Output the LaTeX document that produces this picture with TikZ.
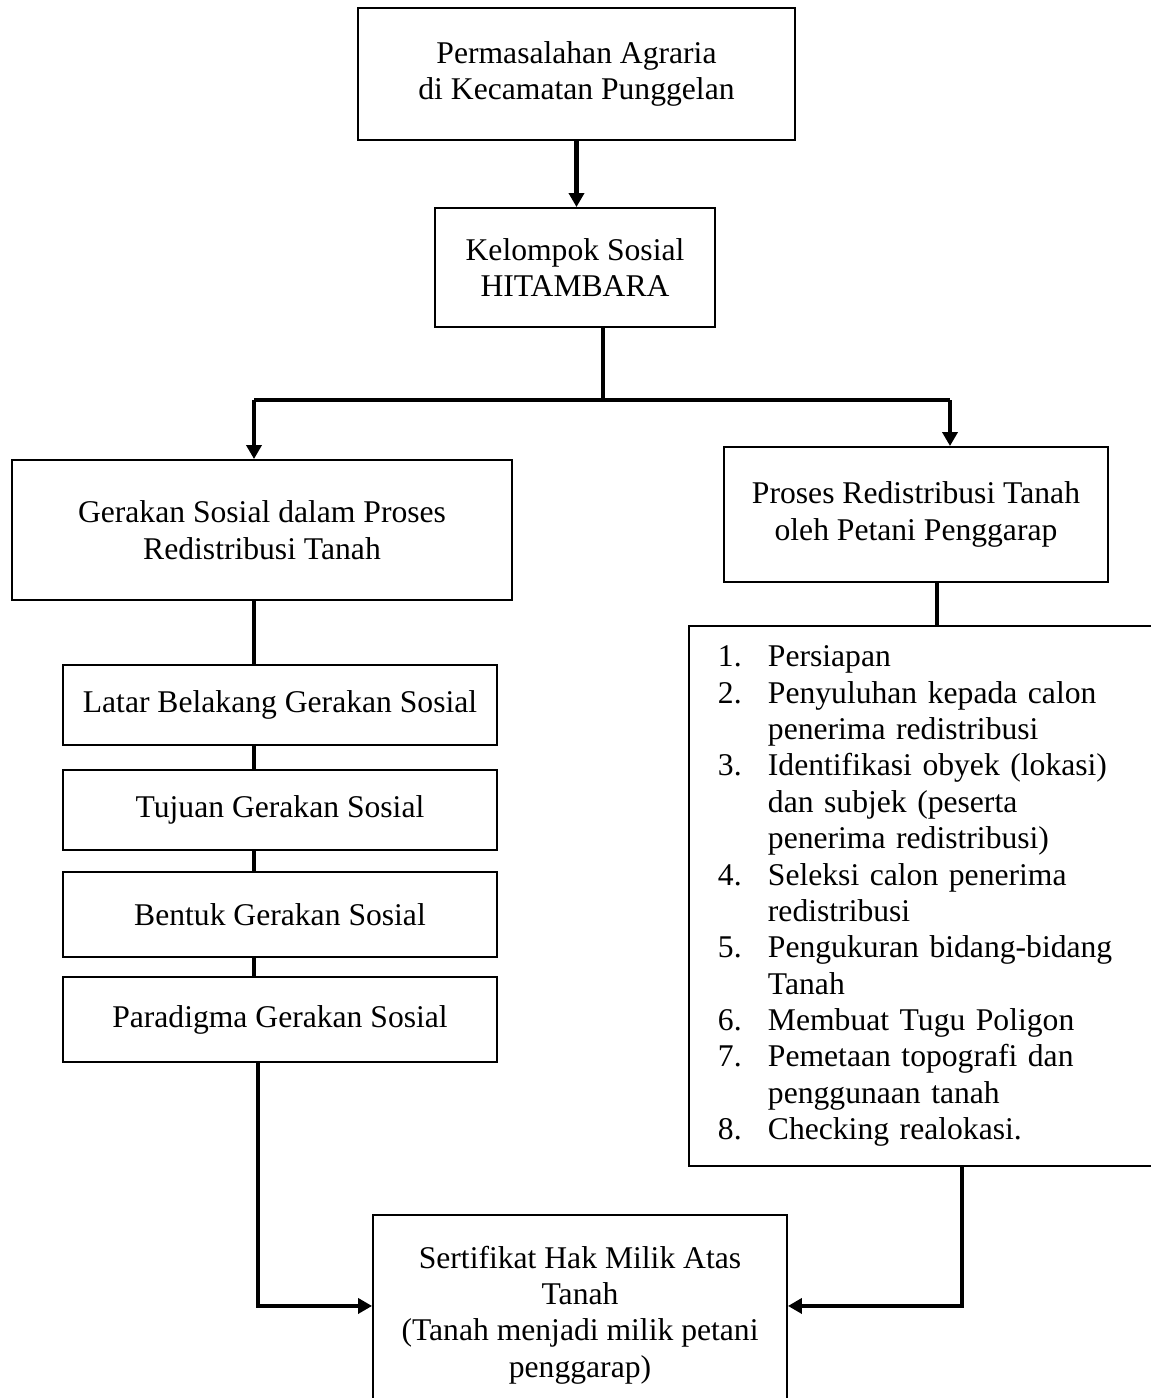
\documentclass[tikz,border=0pt]{standalone}
\usepackage{fontspec}
\setmainfont{Liberation Serif}
\usetikzlibrary{arrows.meta,positioning}

\tikzset{
  kotak/.style={draw,line width=1.1pt,align=center,inner sep=0pt},
  alur/.style={line width=2.3pt},
  panah/.style={alur,-{Triangle[width=0.3cm,length=0.28cm]}},
}

\begin{document}
\begin{tikzpicture}[x=0.02cm,y=-0.02cm,font=\fontsize{18}{20.7}\selectfont]
\useasboundingbox (0,0) rectangle (1150,1398);

% kotak utama
\node[kotak,minimum width=8.74cm,minimum height=2.64cm] (perm) at (576.5,74)
   {Permasalahan Agraria\\di Kecamatan Punggelan};
\node[kotak,minimum width=5.6cm,minimum height=2.38cm] (kelompok) at (575,267.5)
   {Kelompok Sosial\\HITAMBARA};
\node[kotak,minimum width=10cm,minimum height=2.8cm] (gerakan) at (262,530)
   {Gerakan Sosial dalam Proses\\Redistribusi Tanah};
\node[kotak,minimum width=7.68cm,minimum height=2.7cm] (proses) at (916,514.5)
   {Proses Redistribusi Tanah\\oleh Petani Penggarap};

% kolom kiri
\node[kotak,minimum width=8.68cm,minimum height=1.6cm] (latar) at (280,705)
   {Latar Belakang Gerakan Sosial};
\node[kotak,minimum width=8.68cm,minimum height=1.6cm] (tujuan) at (280,810)
   {Tujuan Gerakan Sosial};
\node[kotak,minimum width=8.68cm,minimum height=1.7cm] (bentuk) at (280,914.5)
   {Bentuk Gerakan Sosial};
\node[kotak,minimum width=8.68cm,minimum height=1.7cm] (paradigma) at (280,1019.5)
   {Paradigma Gerakan Sosial};

% daftar tahapan
\node[kotak,anchor=north west,align=left,inner xsep=0.58cm,text width=9.24cm,
      minimum height=10.8cm] (daftar) at (688,625) {%
\begin{tabular}{@{}p{1cm}@{}l@{}}
1. & Persiapan\\
2. & Penyuluhan kepada calon\\
   & penerima redistribusi\\
3. & Identifikasi obyek (lokasi)\\
   & dan subjek (peserta\\
   & penerima redistribusi)\\
4. & Seleksi calon penerima\\
   & redistribusi\\
5. & Pengukuran bidang-bidang\\
   & Tanah\\
6. & Membuat Tugu Poligon\\
7. & Pemetaan topografi dan\\
   & penggunaan tanah\\
8. & Checking realokasi.
\end{tabular}};

\node[kotak,anchor=north,minimum width=8.28cm,minimum height=4cm] (sertifikat) at (580,1214)
   {Sertifikat Hak Milik Atas\\Tanah\\(Tanah menjadi milik petani\\penggarap)};

% titik bantu
\coordinate (cabang) at (603,400);
\coordinate (kiri) at (254,400);
\coordinate (kanan) at (950,400);
\coordinate (kolom) at (254,0);
\coordinate (kolomb) at (258,0);
\coordinate (kolomr) at (937,0);
\coordinate (kolomd) at (962,0);

% penghubung
\draw[panah] (perm.south) -- (perm.south |- kelompok.north);
\draw[alur] (kelompok.south -| cabang) -- (cabang);
\draw[alur] (kiri) -- (kanan);
\draw[panah] (kiri) -- (kiri |- gerakan.north);
\draw[panah] (kanan) -- (kanan |- proses.north);
\draw[alur] (proses.south -| kolomr) -- (daftar.north -| kolomr);
\draw[alur] (gerakan.south -| kolom) -- (latar.north -| kolom);
\draw[alur] (latar.south -| kolom) -- (tujuan.north -| kolom);
\draw[alur] (tujuan.south -| kolom) -- (bentuk.north -| kolom);
\draw[alur] (bentuk.south -| kolom) -- (paradigma.north -| kolom);
\draw[panah] (paradigma.south -| kolomb) |- ([yshift=0.18cm]sertifikat.west);
\draw[panah] (daftar.south -| kolomd) |- ([yshift=0.18cm]sertifikat.east);
\end{tikzpicture}
\end{document}
